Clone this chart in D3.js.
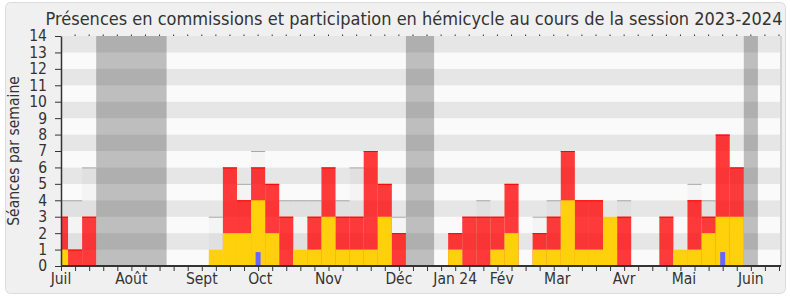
<!DOCTYPE html>
<html>
<head>
<meta charset="utf-8">
<script src="https://cdn.jsdelivr.net/npm/d3@7"></script>
<style>
  body { margin: 0; background: #fff; }
  text { font-family: "DejaVu Sans Condensed", "DejaVu Sans", sans-serif; fill: #333; }
</style>
</head>
<body>
<svg id="chart" width="790" height="300"></svg>
<script>
// weeks of the session, 0 = first week of July 2023
var weeks = d3.range(52);

// presences en commission (red), participation en hemicycle (yellow)
var commission = [3, 1, 3, 0, 0, 0, 0, 0, 0, 0, 0, 0, 6, 4, 6, 5, 3, 0, 3, 6, 3, 3, 7, 5, 2, 0,
                  0, 0, 2, 3, 3, 3, 5, 0, 2, 3, 7, 4, 4, 0, 3, 0, 0, 3, 0, 4, 3, 8, 6, 0, 0, 0];
var hemicycle  = [1, 0, 0, 0, 0, 0, 0, 0, 0, 0, 0, 1, 2, 2, 4, 2, 0, 1, 1, 3, 1, 1, 1, 3, 0, 0,
                  0, 0, 1, 0, 0, 1, 2, 0, 1, 1, 4, 1, 1, 3, 0, 0, 0, 0, 1, 1, 2, 3, 3, 0, 0, 0];
// mediane des deputes (light gray bars)
var mediane    = [4, 4, 6, 0, 0, 0, 0, 0, 0, 0, 0, 3, 0, 5, 7, 0, 4, 4, 4, 0, 4, 6, 0, 0, 3, 0,
                  0, 0, 0, 0, 4, 0, 0, 0, 3, 4, 0, 0, 0, 0, 4, 0, 0, 0, 0, 5, 4, 0, 0, 0, 0, 0];
// questions orales (thin blue bars)
var questions  = [{week: 14, value: 1}, {week: 47, value: 1}];

// vacances parlementaires, first and last week
var vacances = [[3, 7], [25, 26], [49, 49]];

var monthLabels = ["Juil", "Août", "Sept", "Oct", "Nov", "Déc", "Jan 24", "Fév", "Mar", "Avr", "Mai", "Juin"];
var monthWeeks  = [0, 5, 10, 14.15, 19, 24, 28, 31.3, 35.25, 40, 44.25, 49];

var yTicks = d3.range(0, 15);

var svg = d3.select("#chart");
var pLeft = 61, pRight = 781, pTop = 36, pBottom = 266;

var x = d3.scaleLinear().domain([0, 51]).range([pLeft, 779]);
var y = d3.scaleLinear().domain([0, 14]).range([pBottom, pTop]);

// frame
svg.append("rect")
    .attr("x", 5.5).attr("y", 2.5)
    .attr("width", 780).attr("height", 291)
    .attr("rx", 5)
    .attr("fill", "#f0f0f0")
    .attr("stroke", "#dcdcdc");

svg.append("defs").append("clipPath")
    .attr("id", "plot-clip")
    .append("rect")
    .attr("x", pLeft).attr("y", pTop)
    .attr("width", pRight - pLeft).attr("height", pBottom - pTop);

var plot = svg.append("g").attr("clip-path", "url(#plot-clip)");

// horizontal stripes
plot.selectAll(".stripe")
    .data(d3.range(0, 14))
    .enter().append("rect")
    .attr("class", "stripe")
    .attr("x", pLeft)
    .attr("y", function(d) { return y(d + 1); })
    .attr("width", pRight - pLeft)
    .attr("height", function(d) { return y(d) - y(d + 1); })
    .attr("fill", function(d) { return d % 2 ? "#e6e6e6" : "#fafafa"; });

// vacances
plot.selectAll(".vac")
    .data(vacances)
    .enter().append("rect")
    .attr("class", "vac")
    .attr("x", function(d) { return x(d[0] - 0.5); })
    .attr("y", pTop)
    .attr("width", function(d) { return x(d[1] + 0.5) - x(d[0] - 0.5); })
    .attr("height", pBottom - pTop)
    .attr("fill", "rgba(0,0,0,0.24)");

// mediane
var med = plot.selectAll(".med")
    .data(weeks.filter(function(w) { return mediane[w] > 0; }))
    .enter().append("g").attr("class", "med");
med.append("rect")
    .attr("x", function(w) { return x(w - 0.5); })
    .attr("y", function(w) { return y(mediane[w]); })
    .attr("width", function(w) { return x(w + 0.5) - x(w - 0.5); })
    .attr("height", function(w) { return pBottom - y(mediane[w]); })
    .attr("fill", "rgba(0,0,0,0.025)");
med.append("line")
    .attr("x1", function(w) { return x(w - 0.5); })
    .attr("x2", function(w) { return x(w + 0.5); })
    .attr("y1", function(w) { return y(mediane[w]) + 0.5; })
    .attr("y2", function(w) { return y(mediane[w]) + 0.5; })
    .attr("stroke", "#a8a8a8");

// commission
var com = plot.selectAll(".com")
    .data(weeks.filter(function(w) { return commission[w] > 0; }))
    .enter().append("g").attr("class", "com");
com.append("rect")
    .attr("x", function(w) { return x(w - 0.5); })
    .attr("y", function(w) { return y(commission[w]); })
    .attr("width", function(w) { return x(w + 0.5) - x(w - 0.5); })
    .attr("height", function(w) { return pBottom - y(commission[w]); })
    .attr("fill", "rgba(255,0,0,0.77)");
com.append("line")
    .attr("x1", function(w) { return x(w - 0.5); })
    .attr("x2", function(w) { return x(w + 0.5); })
    .attr("y1", function(w) { return y(commission[w]) + 0.5; })
    .attr("y2", function(w) { return y(commission[w]) + 0.5; })
    .attr("stroke", "#f00");

// hemicycle
plot.selectAll(".hem")
    .data(weeks.filter(function(w) { return hemicycle[w] > 0; }))
    .enter().append("rect")
    .attr("class", "hem")
    .attr("x", function(w) { return x(w - 0.5); })
    .attr("y", function(w) { return y(hemicycle[w]); })
    .attr("width", function(w) { return x(w + 0.5) - x(w - 0.5); })
    .attr("height", function(w) { return pBottom - y(hemicycle[w]); })
    .attr("fill", "#ffd10c");

// questions orales
plot.selectAll(".qst")
    .data(questions)
    .enter().append("rect")
    .attr("class", "qst")
    .attr("x", function(d) { return x(d.week) - 2.5; })
    .attr("y", function(d) { return y(d.value) + 2.5; })
    .attr("width", 5)
    .attr("height", function(d) { return pBottom - y(d.value) - 2.5; })
    .attr("fill", "#6666ff");

// right edge of plot
svg.append("line")
    .attr("x1", pRight).attr("x2", pRight)
    .attr("y1", pTop).attr("y2", pBottom)
    .attr("stroke", "#d4d4d4").attr("stroke-width", 2);

// x axis: week ticks
var xAxis = svg.append("g")
    .attr("transform", "translate(0," + pBottom + ")")
    .call(d3.axisBottom(x).tickValues(weeks).tickSize(5).tickSizeOuter(0).tickFormat(""));
xAxis.select(".domain").attr("d", "M" + pLeft + ",0H" + pRight).attr("stroke", "#333").attr("stroke-width", 2);
xAxis.selectAll(".tick line").attr("stroke", "#333");

// month labels
svg.selectAll(".month")
    .data(monthLabels)
    .enter().append("text")
    .attr("class", "month")
    .attr("x", function(d, i) { return x(monthWeeks[i]); })
    .attr("y", 284)
    .attr("text-anchor", "middle")
    .style("font-size", "15.5px")
    .text(function(d) { return d; });

// top dots
svg.selectAll(".topdot")
    .data(weeks.slice(1))
    .enter().append("rect")
    .attr("class", "topdot")
    .attr("x", function(w) { return x(w) - 0.5; })
    .attr("y", pTop - 1.5)
    .attr("width", 1).attr("height", 1.5)
    .attr("fill", "#333");

// y axis
var yAxis = svg.append("g")
    .attr("transform", "translate(" + pLeft + ",0)")
    .call(d3.axisLeft(y).tickValues(yTicks).tickSize(6).tickSizeOuter(0).tickPadding(8));
yAxis.select(".domain").attr("stroke", "#333").attr("stroke-width", 1.5);
yAxis.selectAll(".tick line").attr("stroke", "#333");
yAxis.selectAll(".tick text")
    .style("font-size", "15.5px")
    .style("font-family", "'DejaVu Sans Condensed', 'DejaVu Sans', sans-serif")
    .attr("fill", "#333");

svg.append("text")
    .attr("transform", "translate(19," + (pTop + pBottom) / 2 + ") rotate(-90)")
    .attr("text-anchor", "middle")
    .style("font-size", "15.5px")
    .text("Séances par semaine");

svg.append("text")
    .attr("x", 414)
    .attr("y", 25)
    .attr("text-anchor", "middle")
    .style("font-size", "18px")
    .text("Présences en commissions et participation en hémicycle au cours de la session 2023-2024");
</script>
</body>
</html>
